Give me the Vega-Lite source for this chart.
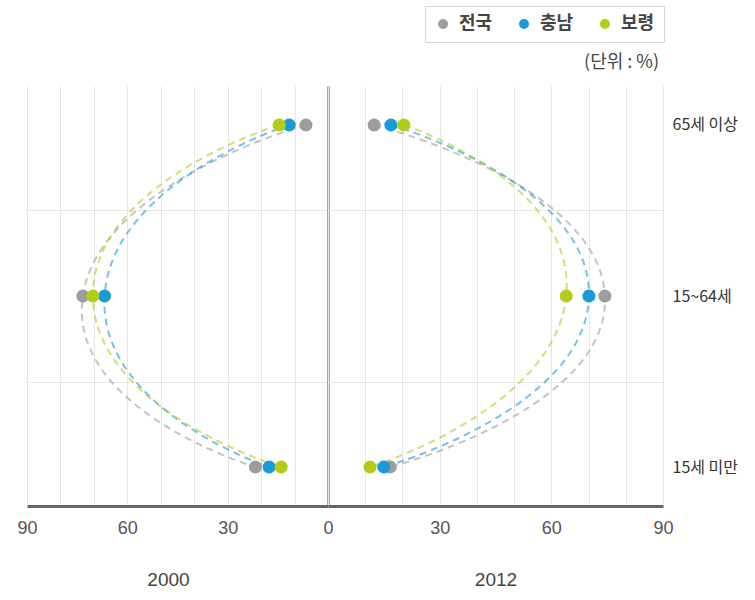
{
  "$schema": "https://vega.github.io/schema/vega-lite/v6.json",
  "padding": {"left": 16, "top": 5, "right": 5, "bottom": 5},
  "background": "white",
  "bounds": "flush",
  "data": {"values": [
    {"year": 2000, "region": "전국", "age": "65세 이상", "value": 6.6},
    {"year": 2000, "region": "전국", "age": "15~64세", "value": 73.3},
    {"year": 2000, "region": "전국", "age": "15세 미만", "value": 21.7},
    {"year": 2000, "region": "충남", "age": "65세 이상", "value": 11.6},
    {"year": 2000, "region": "충남", "age": "15~64세", "value": 66.8},
    {"year": 2000, "region": "충남", "age": "15세 미만", "value": 17.6},
    {"year": 2000, "region": "보령", "age": "65세 이상", "value": 14.6},
    {"year": 2000, "region": "보령", "age": "15~64세", "value": 70.3},
    {"year": 2000, "region": "보령", "age": "15세 미만", "value": 14.0},
    {"year": 2012, "region": "전국", "age": "65세 이상", "value": 12.4},
    {"year": 2012, "region": "전국", "age": "15~64세", "value": 74.4},
    {"year": 2012, "region": "전국", "age": "15세 미만", "value": 16.7},
    {"year": 2012, "region": "충남", "age": "65세 이상", "value": 16.9},
    {"year": 2012, "region": "충남", "age": "15~64세", "value": 70.1},
    {"year": 2012, "region": "충남", "age": "15세 미만", "value": 15.0},
    {"year": 2012, "region": "보령", "age": "65세 이상", "value": 20.4},
    {"year": 2012, "region": "보령", "age": "15~64세", "value": 64.0},
    {"year": 2012, "region": "보령", "age": "15세 미만", "value": 11.3}
  ]},
  "spacing": 0,
  "hconcat": [
    {
      "width": 301,
      "height": 420,
      "transform": [{"filter": "datum.year == 2000"}],
      "encoding": {
        "x": {"field": "value", "type": "quantitative",
          "scale": {"domain": [0, 90], "reverse": true, "nice": false},
          "axis": {"title": "2000", "titleX": 141, "values": [0,10,20,30,40,50,60,70,80,90],
            "labelExpr": "datum.value % 30 == 0 ? datum.label : ''"}},
        "y": {"field": "age", "type": "nominal",
          "scale": {"type": "point", "domain": ["65세 이상", "sp1", "15~64세", "sp2", "15세 미만"], "padding": 0.456},
          "axis": {"orient": "right", "labels": false, "ticks": false, "title": null, "grid": true,
            "domain": true, "domainColor": "#555555", "domainWidth": 2,
            "gridOpacity": {"condition": {"test": "datum.value == 'sp1' || datum.value == 'sp2'", "value": 1}, "value": 0}}},
        "color": {"field": "region", "type": "nominal",
          "scale": {"domain": ["전국", "충남", "보령"], "range": ["#9d9d9d", "#1b9ad8", "#b4cc16"]},
          "legend": {"title": null}}
      },
      "layer": [
        {"mark": {"type": "line", "interpolate": "cardinal", "tension": -1, "strokeDash": [7, 5], "strokeWidth": 2, "opacity": 0.6},
         "encoding": {"order": {"value": null}}},
        {"mark": {"type": "point", "filled": true, "size": 170, "opacity": 1, "shape": "circle"}}
      ]
    },
    {
      "width": 335,
      "height": 420,
      "title": {"text": "(단위 : %)", "anchor": "end", "frame": "group", "dx": -4, "fontSize": 18, "fontWeight": "normal", "color": "#444444", "offset": 14, "font": "Noto Sans CJK KR"},
      "transform": [{"filter": "datum.year == 2012"}],
      "encoding": {
        "x": {"field": "value", "type": "quantitative",
          "scale": {"domain": [0, 90], "nice": false},
          "axis": {"title": "2012", "values": [0,10,20,30,40,50,60,70,80,90],
            "labelExpr": "datum.value % 30 == 0 && datum.value > 0 ? datum.label : ''"}},
        "y": {"field": "age", "type": "nominal",
          "scale": {"type": "point", "domain": ["65세 이상", "sp1", "15~64세", "sp2", "15세 미만"], "padding": 0.456},
          "axis": {"orient": "right", "ticks": false, "title": null, "domain": false, "grid": true,
            "labelExpr": "datum.value == 'sp1' || datum.value == 'sp2' ? '' : datum.label",
            "labelFont": "Noto Sans CJK KR", "labelFontSize": 16, "labelColor": "#333333", "labelPadding": 9,
            "gridOpacity": {"condition": {"test": "datum.value == 'sp1' || datum.value == 'sp2'", "value": 1}, "value": 0}}},
        "color": {"field": "region", "type": "nominal",
          "scale": {"domain": ["전국", "충남", "보령"], "range": ["#9d9d9d", "#1b9ad8", "#b4cc16"]},
          "legend": {"title": null}}
      },
      "layer": [
        {"mark": {"type": "line", "interpolate": "cardinal", "tension": -1, "strokeDash": [7, 5], "strokeWidth": 2, "opacity": 0.6},
         "encoding": {"order": {"value": null}}},
        {"mark": {"type": "point", "filled": true, "size": 170, "opacity": 1, "shape": "circle"}}
      ]
    }
  ],
  "config": {
    "view": {"stroke": null},
    "axis": {"gridColor": "#e6e6e6", "gridWidth": 1},
    "axisX": {"ticks": false, "domainColor": "#666666", "domainWidth": 3, "grid": true, "labelFlush": false,
      "labelFont": "Liberation Sans Narrow, Liberation Sans", "labelFontSize": 18, "labelColor": "#555555", "labelPadding": 13,
      "titleFont": "Liberation Sans Narrow, Liberation Sans", "titleFontSize": 19, "titleFontWeight": "normal", "titleColor": "#444444", "titlePadding": 33},
    "legend": {"orient": "none", "legendX": 398, "legendY": -80, "direction": "horizontal",
      "strokeColor": "#d8d8d8", "padding": 9, "symbolType": "circle", "symbolSize": 100, "symbolStrokeWidth": 0, "symbolOpacity": 1,
      "labelFont": "Noto Sans CJK KR", "labelFontSize": 18, "labelFontWeight": "bold", "labelColor": "#444444", "labelOffset": 7,
      "columnPadding": 22, "symbolDash": []}
  }
}
